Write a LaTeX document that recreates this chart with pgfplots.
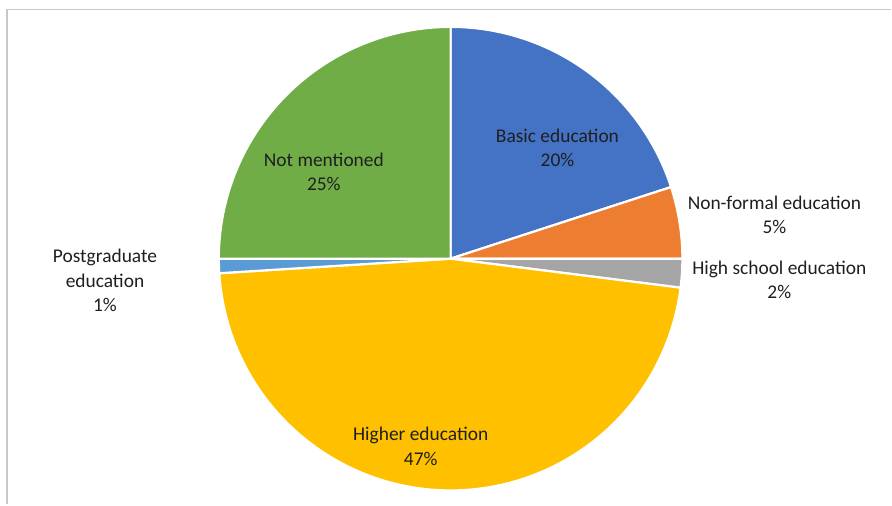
\documentclass[border=0pt]{standalone}
\usepackage{pgfplots}
\pgfplotsset{compat=1.18}
\usepackage{fontspec}
\setmainfont{Carlito}
\definecolor{cBasic}{HTML}{4472C4}
\definecolor{cNonformal}{HTML}{ED7D31}
\definecolor{cHigh}{HTML}{A5A5A5}
\definecolor{cHigher}{HTML}{FFC000}
\definecolor{cPost}{HTML}{5B9BD5}
\definecolor{cNot}{HTML}{70AD47}
\definecolor{cFrame}{HTML}{C8C8C8}
\tikzset{lbl/.style={font=\fontsize{19.5}{24.5}\selectfont, text=black!88, align=center}}
\begin{document}
\begin{tikzpicture}
% data (percent)
\def\vBasic{20}
\def\vNonformal{5}
\def\vHigh{2}
\def\vHigher{47}
\def\vPost{1}
\def\vNot{25}
\pgfmathsetmacro\aA{90}
\pgfmathsetmacro\aB{\aA-3.6*\vBasic}
\pgfmathsetmacro\aC{\aB-3.6*\vNonformal}
\pgfmathsetmacro\aD{\aC-3.6*\vHigh}
\pgfmathsetmacro\aE{\aD-3.6*\vHigher}
\pgfmathsetmacro\aF{\aE-3.6*\vPost}
\pgfmathsetmacro\aG{\aF-3.6*\vNot}
\begin{axis}[
  x=232bp, y=232bp, scale only axis,
  xmin=-1.944, xmax=1.901, ymin=-1.060, ymax=1.116,
  hide axis, clip=false,
  every axis plot/.append style={draw=white, line width=2.2bp, line join=round, samples=120, variable=\t}]
\path (rel axis cs:0,0) rectangle (rel axis cs:1,1);
\draw[cFrame, line width=1.5bp] (axis cs:-1.914,-1.060) -- (axis cs:-1.914,1.076) -- (axis cs:1.901,1.076);
\addplot[fill=cBasic, domain=\aA:\aB] ({cos(\t)},{sin(\t)}) -- (axis cs:0,0) -- cycle;
\addplot[fill=cNonformal, domain=\aB:\aC] ({cos(\t)},{sin(\t)}) -- (axis cs:0,0) -- cycle;
\addplot[fill=cHigh, domain=\aC:\aD] ({cos(\t)},{sin(\t)}) -- (axis cs:0,0) -- cycle;
\addplot[fill=cHigher, domain=\aD:\aE] ({cos(\t)},{sin(\t)}) -- (axis cs:0,0) -- cycle;
\addplot[fill=cPost, domain=\aE:\aF] ({cos(\t)},{sin(\t)}) -- (axis cs:0,0) -- cycle;
\addplot[fill=cNot, domain=\aF:\aG] ({cos(\t)},{sin(\t)}) -- (axis cs:0,0) -- cycle;
\node[lbl] at (axis cs:0.461,0.478) {Basic education\\20\%};
\node[lbl] at (axis cs:1.397,0.190) {Non-formal education\\5\%};
\node[lbl] at (axis cs:1.418,-0.091) {High school education\\2\%};
\node[lbl] at (axis cs:-0.129,-0.810) {Higher education\\47\%};
\node[lbl] at (axis cs:-1.491,-0.095) {Postgraduate\\education\\1\%};
\node[lbl] at (axis cs:-0.547,0.375) {Not mentioned\\25\%};
\end{axis}
\end{tikzpicture}
\end{document}
